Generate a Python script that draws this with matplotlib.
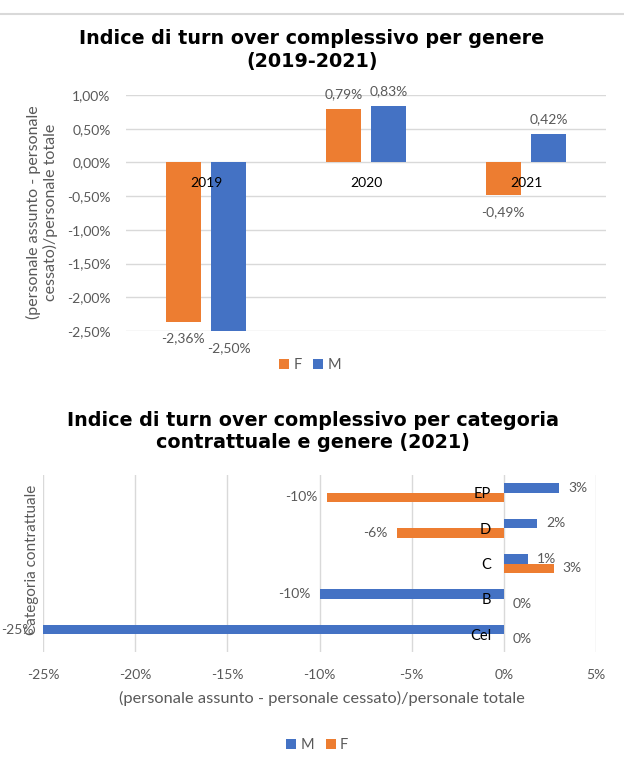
import matplotlib
matplotlib.use('Agg')
import matplotlib.pyplot as plt
from matplotlib.lines import Line2D
from matplotlib.ticker import FuncFormatter

plt.rcParams['font.family'] = ['Lato', 'DejaVu Sans']

# data - top chart (values in %)
years = ['2019', '2020', '2021']
f_year = [-2.36, 0.79, -0.49]
m_year = [-2.50, 0.83, 0.42]

# data - bottom chart (values in %)
categorie = ['EP', 'D', 'C', 'B', 'Cel']
m_cat = [3.0, 1.8, 1.3, -10.0, -25.0]
f_cat = [-9.6, -5.8, 2.7, 0.0, 0.0]

ORANGE = '#ED7D31'
BLUE = '#4472C4'
GRID = '#d9d9d9'
TXT = '#595959'
TFS = 13.8

W, H = 624, 760


def box(l, t, r, b):
    return [l / W, 1 - b / H, (r - l) / W, (b - t) / H]


fig = plt.figure(figsize=(W / 100, H / 100), dpi=100)
fig.add_artist(Line2D([0, 1], [1 - 14 / H] * 2, color=GRID, lw=1.5))

# ---------------- top chart ----------------
fig.text(312 / W, 1 - 39 / H, 'Indice di turn over complessivo per genere',
         ha='center', va='center', fontsize=TFS, fontweight='bold', family='DejaVu Sans')
fig.text(312 / W, 1 - 62 / H, '(2019-2021)',
         ha='center', va='center', fontsize=TFS, fontweight='bold', family='DejaVu Sans')

ax1 = fig.add_axes(box(126, 95, 606, 331))
x = range(len(years))
bw = 0.22
off = 0.142
b_f = ax1.bar([i - off for i in x], f_year, bw, color=ORANGE, label='F', zorder=1)
b_m = ax1.bar([i + off for i in x], m_year, bw, color=BLUE, label='M', zorder=1)

for bars, vals in [(b_f, f_year), (b_m, m_year)]:
    for rect, v in zip(bars, vals):
        xc = rect.get_x() + rect.get_width() / 2
        lab = f'{v:.2f}'.replace('.', ',') + '%'
        if v >= 0:
            ax1.annotate(lab, (xc, v), xytext=(0, 9), textcoords='offset pixels',
                         ha='center', va='bottom', fontsize=10, color=TXT)
        else:
            ax1.annotate(lab, (xc, v), xytext=(0, -11), textcoords='offset pixels',
                         ha='center', va='top', fontsize=10, color=TXT)

ax1.set_xlim(-0.5, 2.5)
ax1.set_ylim(-2.5, 1.0)
yt = [1.0, 0.5, 0.0, -0.5, -1.0, -1.5, -2.0, -2.5]
ax1.set_yticks(yt)
for v in yt:
    ax1.axhline(v, color=GRID, lw=1, zorder=0)
ax1.yaxis.set_major_formatter(FuncFormatter(lambda v, p: f'{v:.2f}'.replace('.', ',') + '%'))
ax1.set_xticks(list(x))
ax1.set_xticklabels(years)
ax1.spines['bottom'].set_visible(False)
for s in ['top', 'right', 'left']:
    ax1.spines[s].set_visible(False)
ax1.xaxis.set_ticks_position('bottom')
ax1.spines['bottom'].set_position(('data', 0))
ax1.tick_params(axis='x', length=0, pad=10.5, labelsize=10, labelcolor='black')
ax1.tick_params(axis='y', length=0, pad=11, labelsize=10, labelcolor=TXT)

fig.text(42 / W, 1 - 212 / H, '(personale assunto - personale\ncessato)/personale totale',
         rotation=90, ha='center', va='center', multialignment='center',
         fontsize=11.5, color=TXT)

ax1.legend(handles=[b_f, b_m], loc='center', bbox_to_anchor=(310 / W, 1 - 365 / H),
           bbox_transform=fig.transFigure, ncol=2, frameon=False, fontsize=10.5,
           labelcolor=TXT, handlelength=0.7, handleheight=0.7, handletextpad=0.3,
           columnspacing=0.8)

# ---------------- bottom chart ----------------
fig.text(313 / W, 1 - 420 / H, 'Indice di turn over complessivo per categoria',
         ha='center', va='center', fontsize=TFS, fontweight='bold', family='DejaVu Sans')
fig.text(313 / W, 1 - 443 / H, 'contrattuale e genere (2021)',
         ha='center', va='center', fontsize=TFS, fontweight='bold', family='DejaVu Sans')

ax2 = fig.add_axes(box(43, 475, 596, 652))
y = range(len(categorie))
bh = 0.27
h_m = ax2.barh([i - bh / 2 for i in y], m_cat, bh, color=BLUE, label='M', zorder=1)
h_f = ax2.barh([i + bh / 2 for i in y], f_cat, bh, color=ORANGE, label='F', zorder=1)

for bars, vals in [(h_m, m_cat), (h_f, f_cat)]:
    for rect, v in zip(bars, vals):
        yc = rect.get_y() + rect.get_height() / 2
        lab = f'{v:.0f}%'
        if v < 0:
            ax2.annotate(lab, (v, yc), xytext=(-9, 0), textcoords='offset pixels',
                         ha='right', va='center', fontsize=10, color=TXT)
        else:
            ax2.annotate(lab, (v, yc), xytext=(9, 0), textcoords='offset pixels',
                         ha='left', va='center', fontsize=10, color=TXT)

ax2.set_xlim(-25, 5)
ax2.set_ylim(len(categorie) - 0.5, -0.5)
xt = [-25, -20, -15, -10, -5, 0, 5]
ax2.set_xticks(xt)
for v in xt:
    ax2.axvline(v, color=GRID, lw=1, zorder=0)
ax2.xaxis.set_major_formatter(FuncFormatter(lambda v, p: f'{v:.0f}%'))
ax2.set_yticks(list(y))
ax2.set_yticklabels(categorie)
ax2.spines['left'].set_position(('data', 0))
ax2.spines['left'].set_visible(False)
for s in ['top', 'right', 'bottom']:
    ax2.spines[s].set_visible(False)
ax2.tick_params(axis='y', length=0, pad=9, labelsize=10.5, labelcolor='black')
ax2.tick_params(axis='x', length=0, pad=12, labelsize=10, labelcolor=TXT)

fig.text(32 / W, 1 - 560 / H, 'Categoria contrattuale', rotation=90,
         ha='center', va='center', fontsize=11, color=TXT)
fig.text(322 / W, 1 - 698 / H, '(personale assunto - personale cessato)/personale totale',
         ha='center', va='center', fontsize=11.75, color=TXT)

ax2.legend(handles=[h_m, h_f], loc='center', bbox_to_anchor=(317 / W, 1 - 745 / H),
           bbox_transform=fig.transFigure, ncol=2, frameon=False, fontsize=10.5,
           labelcolor=TXT, handlelength=0.7, handleheight=0.7, handletextpad=0.3,
           columnspacing=0.8)

fig.savefig('out.png', dpi=100)
